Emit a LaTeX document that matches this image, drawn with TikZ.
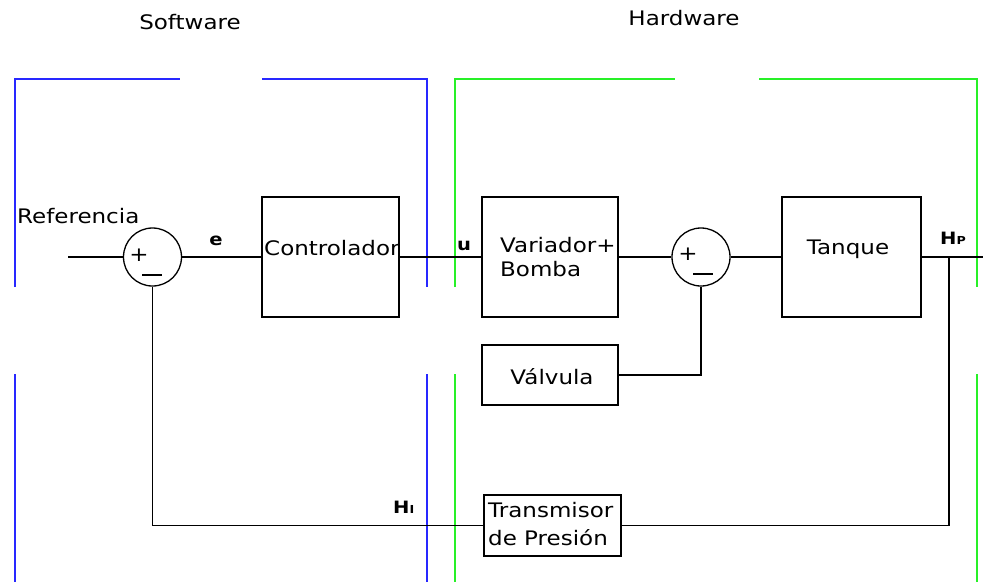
\documentclass[tikz,border=0pt]{standalone}
\usepackage{fontspec}
\newfontfamily\cad[FakeStretch=1.15]{DejaVu Sans}
\newfontfamily\cadb[FakeStretch=1.15]{DejaVu Sans Bold}
\definecolor{swblue}{RGB}{40,40,255}
\definecolor{hwgreen}{RGB}{40,240,40}
\tikzset{
  txt/.style={inner sep=0pt, font=\cad\fontsize{20}{24}\selectfont},
  lbl/.style={inner sep=0pt, font=\cadb\fontsize{17}{19}\selectfont},
  blockbox/.style={draw=black, line width=1.3pt, inner sep=0pt},
  sumnode/.style={draw=black, line width=1.3pt, circle, minimum size=58pt, inner sep=0pt},
  wire/.style={draw=black, line width=1.3pt},
  swline/.style={draw=swblue, line width=1.6pt},
  hwline/.style={draw=hwgreen, line width=1.6pt}
}
\begin{document}
\begin{tikzpicture}[x=1pt,y=-1pt]
\useasboundingbox[fill=white] (0,0) rectangle (983,582);

% headings
\node[txt] (sw) at (190,22) {Software};
\node[txt] (hw) at (684,18) {Hardware};

% software / hardware brackets
\draw[swline] (15,287) -- (15,79) -- (180,79);
\draw[swline] (262,79) -- (427,79) -- (427,287);
\draw[swline] (15,374) -- (15,582);
\draw[swline] (427,374) -- (427,582);
\draw[hwline] (455,287) -- (455,79) -- (675,79);
\draw[hwline] (759,79) -- (977,79) -- (977,287);
\draw[hwline] (455,374) -- (455,582);
\draw[hwline] (977,374) -- (977,582);

% blocks
\node[blockbox, minimum width=137pt, minimum height=120pt] (ctrl) at (330.5,257) {};
\node[blockbox, minimum width=136pt, minimum height=120pt] (var) at (550,257) {};
\node[blockbox, minimum width=139pt, minimum height=120pt] (tank) at (851.5,257) {};
\node[blockbox, minimum width=136pt, minimum height=60pt] (valv) at (550,375) {};
\node[blockbox, minimum width=137pt, minimum height=61pt] (trans) at (552.5,525.5) {};

% block texts
\node[txt, anchor=base west] (ctrlT) at (264,255) {Controlador};
\node[txt, anchor=base west] (varT1) at (500,252) {Variador+};
\node[txt, anchor=base west] (varT2) at (500,276) {Bomba};
\node[txt, anchor=base] (tankT) at (848,254) {Tanque};
\node[txt, anchor=base] (valvT) at (552,384) {Válvula};
\node[txt, anchor=base west] (transT1) at (488,517) {Transmisor};
\node[txt, anchor=base west] (transT2) at (488,545) {de Presión};

% summing junctions
\node[sumnode] (s1) at (152.5,257) {};
\node[sumnode] (s2) at (701,257) {};
\node[txt] (s1p) at (139,255) {+};
\node[txt] (s1m) at (152,275) {\rule{20pt}{1.3pt}};
\node[txt] (s2p) at (688,254) {+};
\node[txt] (s2m) at (703,274) {\rule{20pt}{1.3pt}};

% labels
\node[txt, anchor=base west] (ref) at (17,223) {Referencia};
\node[lbl, anchor=base] (le) at (216,245) {e};
\node[lbl, anchor=base] (lu) at (464,250) {u};
\node[lbl, anchor=base west] (lhp) at (940,244) {H{\fontsize{11}{11}\selectfont P}};
\node[lbl, anchor=base west] (lhi) at (393,513) {H{\fontsize{11}{11}\selectfont I}};

% connectors
\coordinate (in) at (68,257);
\coordinate (out) at (983,257);
\coordinate (j) at (949,257);
\draw[wire] (in) -- (s1.west);
\draw[wire] (s1.east) -- (ctrl.west);
\draw[wire] (ctrl.east) -- (var.west);
\draw[wire] (var.east) -- (s2.west);
\draw[wire] (s2.east) -- (tank.west);
\draw[wire] (tank.east) -- (out);
\draw[wire] (j) |- (trans.east);
\draw[wire] (trans.west) -| (s1.south);
\draw[wire] (valv.east) -| (s2.south);
\end{tikzpicture}
\end{document}
